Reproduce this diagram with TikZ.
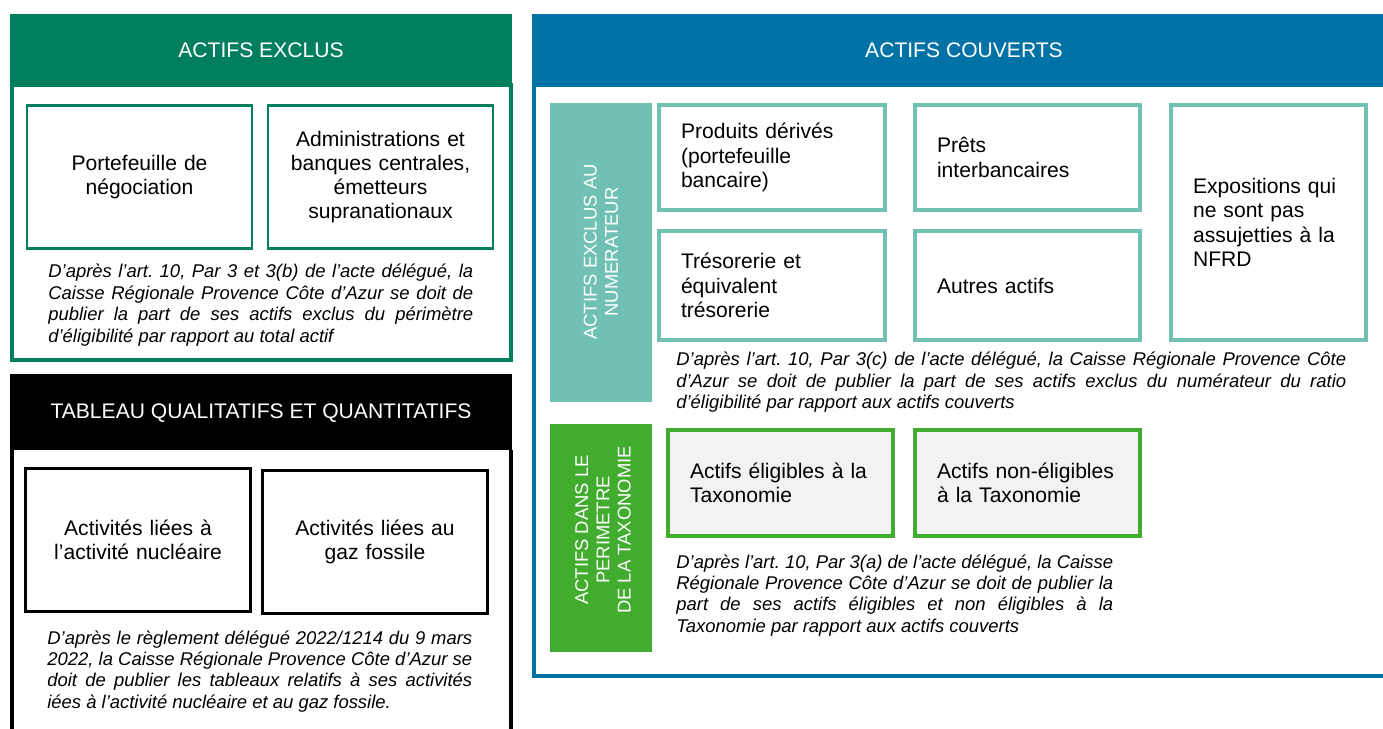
\documentclass[tikz,border=0pt]{standalone}
\usepackage{fontspec}
\setmainfont{Liberation Sans}
\definecolor{vertfonce}{RGB}{0,127,94}
\definecolor{bleucr}{RGB}{0,114,166}
\definecolor{turquoise}{RGB}{112,193,179}
\definecolor{vertclair}{RGB}{66,172,46}
\definecolor{grisclair}{RGB}{242,242,242}
\tolerance=10000
\hbadness=10000
\frenchspacing
\tikzset{
  titre/.style={text=white, font=\fontsize{12}{14}\selectfont},
  cadre/.style={line width=1.8pt},
  boite/.style={draw, line width=1.6pt, align=center, inner xsep=0pt, text width=4.5cm,
    minimum height=2.86cm, font=\fontsize{12}{13.6}\selectfont},
  boiteg/.style={draw, line width=1.8pt, align=left, inner xsep=0.44cm,
    font=\fontsize{12}{13.9}\selectfont},
  note/.style={anchor=base west, inner sep=0pt, align=justify,
    font=\fontsize{10.5}{12.2}\selectfont\itshape},
  bandeau/.style={rotate=90, text=white, align=center,
    font=\fontsize{10.5}{12.1}\selectfont}
}
\begin{document}
\begin{tikzpicture}[x=0.02cm, y=-0.02cm, line join=miter]
\useasboundingbox (0,0) rectangle (1383,729);
\clip (0,0) rectangle (1383,729);
%\draw[gray!30, step=50] (0,0) grid (1383,729);
% actifs exclus
\fill[vertfonce] (10,14) rectangle (512,85);
\draw[cadre, vertfonce] (12,85) rectangle (511,360);
\node[titre] (exclus) at (261,50) {ACTIFS EXCLUS};
\node[boite, draw=vertfonce] (negociation) at (139.5,177) {Portefeuille de\\négociation};
\node[boite, draw=vertfonce] (administrations) at (380.5,177)
  {Administrations et\\banques centrales,\\émetteurs\\supranationaux};
\node[note, text width=8.5cm] (noteexclus) at (48,278) {D’après l’art. 10, Par 3 et 3(b) de l’acte délégué, la\linebreak
  Caisse Régionale Provence Côte d’Azur se doit de\linebreak
  publier la part de ses actifs exclus du périmètre\linebreak
  d’éligibilité par rapport au total actif};
% tableaux nucleaire / gaz
\fill (10,374) rectangle (512,450);
\draw[cadre] (12,450) -- (12,740) (511,450) -- (511,740);
\node[titre] (tableau) at (261,413) {TABLEAU QUALITATIFS ET QUANTITATIFS};
\node[boite] (nucleaire) at (138,540) {Activités liées à\\l’activité nucléaire};
\node[boite] (fossile) at (375,542) {Activités liées au\\gaz fossile};
\node[note, text width=8.5cm] (notetableau) at (47,644) {D’après le règlement délégué 2022/1214 du 9 mars\linebreak
  2022, la Caisse Régionale Provence Côte d’Azur se\linebreak
  doit de publier les tableaux relatifs à ses activités\linebreak
  iées à l’activité nucléaire et au gaz fossile.};
% actifs couverts
\fill[bleucr] (532,14) rectangle (1400,85);
\draw[cadre, bleucr] (534,85) rectangle (1400,676);
\node[titre] (couverts) at (964,50) {ACTIFS COUVERTS};
\fill[turquoise] (550,103) rectangle (652,402);
\node[bandeau] (numerateur) at (601,252) {ACTIFS EXCLUS AU\\NUMERATEUR};
\foreach \n/\cx/\cy/\lt/\hb/\txt in {
  derives/772/157.5/3.64/2.1/{Produits dérivés\\(portefeuille\\bancaire)},
  prets/1027.5/157.5/3.62/2.1/{Prêts\\interbancaires},
  nfrd/1268.5/222.5/3.02/4.7/{Expositions qui\\ne sont pas\\assujetties à la\\NFRD},
  tresorerie/772/285.5/3.64/2.18/{Trésorerie et\\équivalent\\trésorerie},
  autres/1027.5/285.5/3.62/2.18/{Autres actifs}}
  \node[boiteg, draw=turquoise, text width=\lt cm, minimum height=\hb cm] (\n) at (\cx,\cy) {\txt};
\node[note, text width=13.4cm] (notecouverts) at (676,366) {D’après l’art. 10, Par 3(c) de l’acte délégué, la Caisse Régionale Provence Côte\linebreak
  d’Azur se doit de publier la part de ses actifs exclus du numérateur du ratio\linebreak
  d’éligibilité par rapport aux actifs couverts};
% perimetre de la taxonomie
\fill[vertclair] (550,424) rectangle (652,652);
\node[bandeau] (taxonomie) at (603,530) {ACTIFS DANS LE\\PERIMETRE\\DE LA TAXONOMIE};
\foreach \n/\cx/\txt in {eligibles/780.5/{Actifs éligibles à la\\Taxonomie},
  noneligibles/1027.5/{Actifs non-éligibles\\à la Taxonomie}}
  \node[boiteg, draw=vertclair, fill=grisclair, text width=3.62cm, minimum height=2.12cm] (\n) at (\cx,483) {\txt};
\node[note, text width=8.74cm] (notetaxonomie) at (676,568) {D’après l’art. 10, Par 3(a) de l’acte délégué, la Caisse\linebreak
  Régionale Provence Côte d’Azur se doit de publier la\linebreak
  part de ses actifs éligibles et non éligibles à la\linebreak
  Taxonomie par rapport aux actifs couverts};
\end{tikzpicture}
\end{document}
